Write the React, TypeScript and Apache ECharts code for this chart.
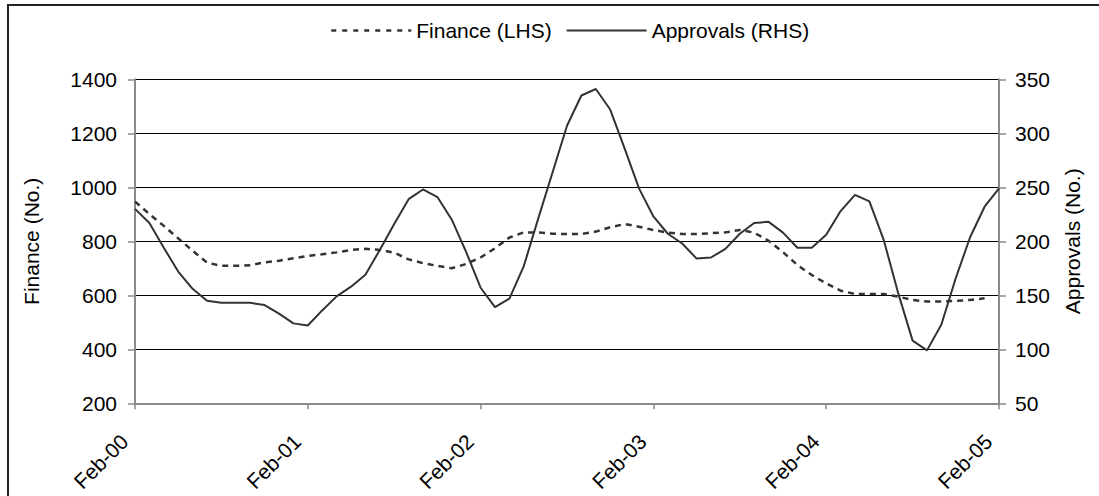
import React, { useEffect, useRef } from "react";
import * as echarts from "echarts";

// Monthly categories, Feb-00 through Feb-05
const MONTHS = ["Jan", "Feb", "Mar", "Apr", "May", "Jun", "Jul", "Aug", "Sep", "Oct", "Nov", "Dec"];
const YEARS = ["00", "01", "02", "03", "04", "05"];
const categories: string[] = [];
for (let y = 0; y < YEARS.length; y++) {
  for (let m = 0; m < 12; m++) {
    if (y === 0 && m < 1) continue;
    if (y === YEARS.length - 1 && m > 1) continue;
    categories.push(`${MONTHS[m]}-${YEARS[y]}`);
  }
}

// Finance (No.), left-hand scale
const finance: (number | null)[] = [
  947, 901, 857, 811, 765, 721, 709, 709, 711, 722, 728, 737,
  746, 752, 759, 768, 772, 768, 758, 733, 719, 709, 700, 716,
  740, 774, 814, 833, 833, 828, 827, 827, 836, 852, 864, 854,
  842, 832, 827, 827, 830, 833, 842, 832, 802, 760, 712, 675,
  644, 617, 605, 605, 605, 595, 583, 577, 577, 579, 583, 589,
  null,
];

// Approvals (No.), right-hand scale
const approvals: number[] = [
  230, 217, 194, 172, 156, 145, 143, 143, 143, 141, 133, 124,
  122, 136, 149, 158, 169, 192, 216, 239, 248, 241, 220, 190,
  157, 139, 147, 177, 221, 264, 307, 335, 341, 322, 286, 249,
  223, 207, 198, 184, 185, 193, 207, 217, 218, 208, 194, 194,
  206, 228, 243, 237, 201, 152, 108, 99, 123, 166, 204, 232,
  249,
];

const FONT = "'Liberation Sans', Arial, sans-serif";
const FS = 21;
const AXIS_GREY = "#8a8a8a";
const LINE = "#333333";

export default function App() {
  const ref = useRef<HTMLDivElement>(null);

  useEffect(() => {
    if (!ref.current) return;
    const chart = echarts.init(ref.current, null, { renderer: "svg" });
    chart.setOption({
      animation: false,
      backgroundColor: "#ffffff",
      textStyle: { fontFamily: FONT, color: "#000" },
      legend: {
        left: 330,
        top: 20,
        itemWidth: 80,
        itemHeight: 14,
        itemGap: 14,
        padding: 0,
        itemStyle: { opacity: 0 },
        textStyle: { fontSize: FS, color: "#000", fontFamily: FONT },
        data: [
          { name: "Finance (LHS)", lineStyle: { color: LINE, width: 2.5, type: [5, 6] } },
          { name: "Approvals (RHS)", lineStyle: { color: LINE, width: 2, type: "solid" } },
        ],
      },
      grid: { left: 135, right: 100, top: 79.3, bottom: 92.7 },
      xAxis: {
        type: "category",
        boundaryGap: false,
        data: categories,
        axisLine: { lineStyle: { color: AXIS_GREY, width: 2 } },
        axisTick: { interval: 11, length: 6, lineStyle: { color: AXIS_GREY, width: 1.5 } },
        axisLabel: {
          interval: 11,
          rotate: 45,
          fontSize: FS,
          color: "#000",
          margin: 24,
          padding: [0, 15, 0, 0],
          fontFamily: FONT,
          formatter: (v: string) => (v.startsWith("Feb") ? v : ""),
        },
        splitLine: { show: false },
      },
      yAxis: [
        {
          type: "value",
          position: "left",
          min: 200,
          max: 1400,
          interval: 200,
          name: "Finance (No.)",
          nameLocation: "middle",
          nameGap: 93,
          nameRotate: 90,
          nameTextStyle: { fontSize: FS, color: "#000", fontFamily: FONT },
          axisLine: { show: true, lineStyle: { color: AXIS_GREY, width: 2 } },
          axisTick: { show: true, length: 7, lineStyle: { color: AXIS_GREY, width: 1.5 } },
          axisLabel: {
            fontSize: FS,
            color: "#000",
            margin: 18,
            fontFamily: FONT,
            formatter: (v: number) => String(v),
          },
          splitLine: { show: true, lineStyle: { color: "#000", width: 1 } },
        },
        {
          type: "value",
          position: "right",
          min: 50,
          max: 350,
          interval: 50,
          name: "Approvals (No.)",
          nameLocation: "middle",
          nameGap: 63,
          nameRotate: 90,
          nameTextStyle: { fontSize: FS, color: "#000", fontFamily: FONT },
          axisLine: { show: true, lineStyle: { color: AXIS_GREY, width: 2 } },
          axisTick: { show: true, length: 7, lineStyle: { color: AXIS_GREY, width: 1.5 } },
          axisLabel: {
            fontSize: FS,
            color: "#000",
            margin: 16,
            fontFamily: FONT,
            formatter: (v: number) => String(v),
          },
          splitLine: { show: false },
        },
      ],
      series: [
        {
          name: "Finance (LHS)",
          type: "line",
          yAxisIndex: 0,
          data: finance,
          symbol: "none",
          showSymbol: false,
          lineStyle: { color: LINE, width: 2.5, type: [6, 5] },
          itemStyle: { color: LINE },
        },
        {
          name: "Approvals (RHS)",
          type: "line",
          yAxisIndex: 1,
          data: approvals,
          symbol: "none",
          showSymbol: false,
          lineStyle: { color: LINE, width: 2, type: "solid" },
          itemStyle: { color: LINE },
        },
      ],
      graphic: [
        {
          type: "rect",
          silent: true,
          shape: { x: 8, y: 5, width: 1200, height: 600 },
          style: { fill: "none", stroke: "#222", lineWidth: 2 },
        },
      ],
    });
    return () => chart.dispose();
  }, []);

  return (
    <div
      ref={ref}
      style={{ position: "fixed", left: 0, top: 0, width: 1099, height: 496, background: "#fff" }}
    />
  );
}
